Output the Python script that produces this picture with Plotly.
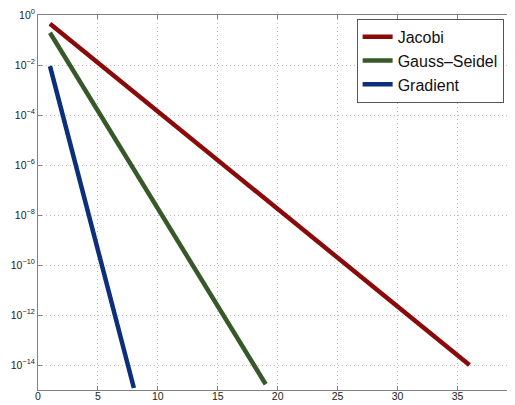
import plotly.graph_objects as go

# Convergence history (iteration, residual)
jacobi_iter = [1, 36]
jacobi_res = [0.45, 1.0e-14]

gs_iter = [1, 19]
gs_res = [0.195, 1.7e-15]

grad_iter = [1, 8]
grad_res = [0.009, 1.2e-15]

series_names = ["Jacobi", "Gauss\u2013Seidel", "Gradient"]
series_colors = ["#8a0a0a", "#37592a", "#0c2f7c"]

x_ticks = [0, 5, 10, 15, 20, 25, 30, 35]
y_exps = [0, -2, -4, -6, -8, -10, -12, -14]
y_tickvals = [10.0 ** e for e in y_exps]
y_ticktext = ["10<sup>%s</sup>" % (str(e).replace("-", "\u2212")) for e in y_exps]

fig = go.Figure()
for xs, ys, name, col in zip([jacobi_iter, gs_iter, grad_iter],
                             [jacobi_res, gs_res, grad_res],
                             series_names, series_colors):
    fig.add_trace(go.Scatter(x=xs, y=ys, mode="lines", name=name,
                             line=dict(color=col, width=4.5)))

# the page body adds an 8px margin, so the figure is sized to fill the rest
fig.update_layout(
    template="none",
    width=507, height=397,
    margin=dict(l=30, r=0, t=7, b=15, pad=0),
    paper_bgcolor="white", plot_bgcolor="white",
    font=dict(family="Liberation Sans, Arial, sans-serif", size=10.5, color="#222"),
    showlegend=True,
    legend=dict(x=0.668, y=0.99, xanchor="left", yanchor="top",
                bgcolor="white", bordercolor="#555", borderwidth=1,
                font=dict(size=16, color="#111"),
                tracegroupgap=0, itemwidth=30),
)
grid_style = dict(showgrid=True, gridcolor="#bdbdbd", griddash="1px,3px", gridwidth=1,
                  showline=True, linecolor="#808080", linewidth=1, automargin=False,
                  ticks="inside", ticklen=4, tickcolor="#808080", zeroline=False,
                  ticklabeloverflow="allow")
fig.update_xaxes(range=[0, 39.8], tickvals=x_ticks, mirror="ticks",
                 ticklabelstandoff=-4, **grid_style)
fig.update_yaxes(type="log", range=[-15, 0], tickvals=y_tickvals, ticktext=y_ticktext,
                 mirror=False, **grid_style)
fig.add_annotation(text="40", xref="paper", yref="paper", x=40 / 39.8, y=0,
                   xanchor="center", yanchor="top", yshift=0, showarrow=False,
                   font=dict(size=10.5, color="#222"))
fig.write_html("out.html")
